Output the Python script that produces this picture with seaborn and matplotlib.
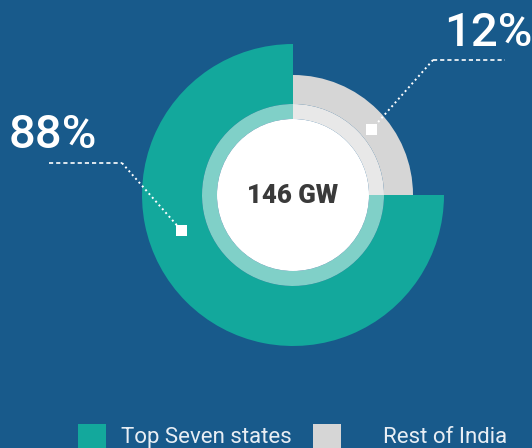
import matplotlib
matplotlib.use("Agg")
import matplotlib.pyplot as plt
from matplotlib.patches import Wedge, Circle, Rectangle
import seaborn as sns

# ---- data ----
categories = ["Top Seven states", "Rest of India"]
share_pct = [88, 12]               # labelled shares
arc_share = [75, 25]               # arc sweep as drawn in the graphic
center_label = "146 GW"
colors = ["#13a89c", "#d6d6d6"]
inner_colors = ["#80d0c8", "#e8e8e8"]

sns.set_theme(style="white")
plt.rcParams["font.family"] = ["Roboto", "DejaVu Sans"]

BG = "#185a8b"
W, H = 532, 448
fig = plt.figure(figsize=(W / 100, H / 100), dpi=100, facecolor=BG)
ax = fig.add_axes([0, 0, 1, 1])
ax.set_facecolor(BG)
ax.set_xlim(0, W)
ax.set_ylim(0, H)
ax.set_aspect("equal")
ax.axis("off")

def Y(y):
    return H - y

cx, cy = 293, Y(195)
outer_r = [151, 120]
ring_outer = 91
ring_inner = 76

total = sum(arc_share)
start = 90.0
for i, cat in enumerate(categories):
    sweep = 360.0 * arc_share[i] / total
    t1, t2 = start, start + sweep
    ax.add_patch(Wedge((cx, cy), outer_r[i], t1, t2, width=outer_r[i] - ring_outer,
                       facecolor=colors[i], edgecolor="none"))
    ax.add_patch(Wedge((cx, cy), ring_outer, t1, t2, width=ring_outer - ring_inner,
                       facecolor=inner_colors[i], edgecolor="none"))
    start = t2

ax.add_patch(Circle((cx, cy), ring_inner, facecolor="white", edgecolor="none"))
ax.text(cx, cy - 1, center_label, ha="center", va="center", fontsize=18.5,
        fontweight="black", color="#3a3a3a")

# percentage labels with leaders
labels = [f"{v}%" for v in share_pct]
lab_pos = [(53, Y(135)), (488, Y(33))]
lead_h = [((49, 122), Y(163)), ((433, 505), Y(60))]
knee = [(122, Y(163)), (433, Y(60))]
marker = [(181.5, Y(230.5)), (371.5, Y(129.5))]
for i in range(2):
    ax.text(lab_pos[i][0], lab_pos[i][1], labels[i], ha="center", va="center",
            fontsize=34, fontweight="medium", color="white")
    (x0, x1), yy = lead_h[i]
    ax.plot([x0, x1], [yy, yy], color="white", lw=1.2, ls=(0, (2.5, 1.8)))
    ax.plot([knee[i][0], marker[i][0]], [knee[i][1], marker[i][1]], color="white",
            lw=1.4, ls=(0, (1, 1.6)))
    ax.add_patch(Rectangle((marker[i][0] - 5.5, marker[i][1] - 5.5), 11, 11,
                           facecolor="white", edgecolor="none", zorder=5))

# legend
leg_x = [78, 313]
txt_x = [121, 383]
for i, cat in enumerate(categories):
    ax.add_patch(Rectangle((leg_x[i], Y(452)), 28, 28, facecolor=colors[i],
                           edgecolor="none", clip_on=True))
    ax.text(txt_x[i], Y(437), cat, ha="left", va="center", fontsize=16,
            fontweight="normal", color="#e8eef4")

fig.savefig("out.png", dpi=100, facecolor=BG)
